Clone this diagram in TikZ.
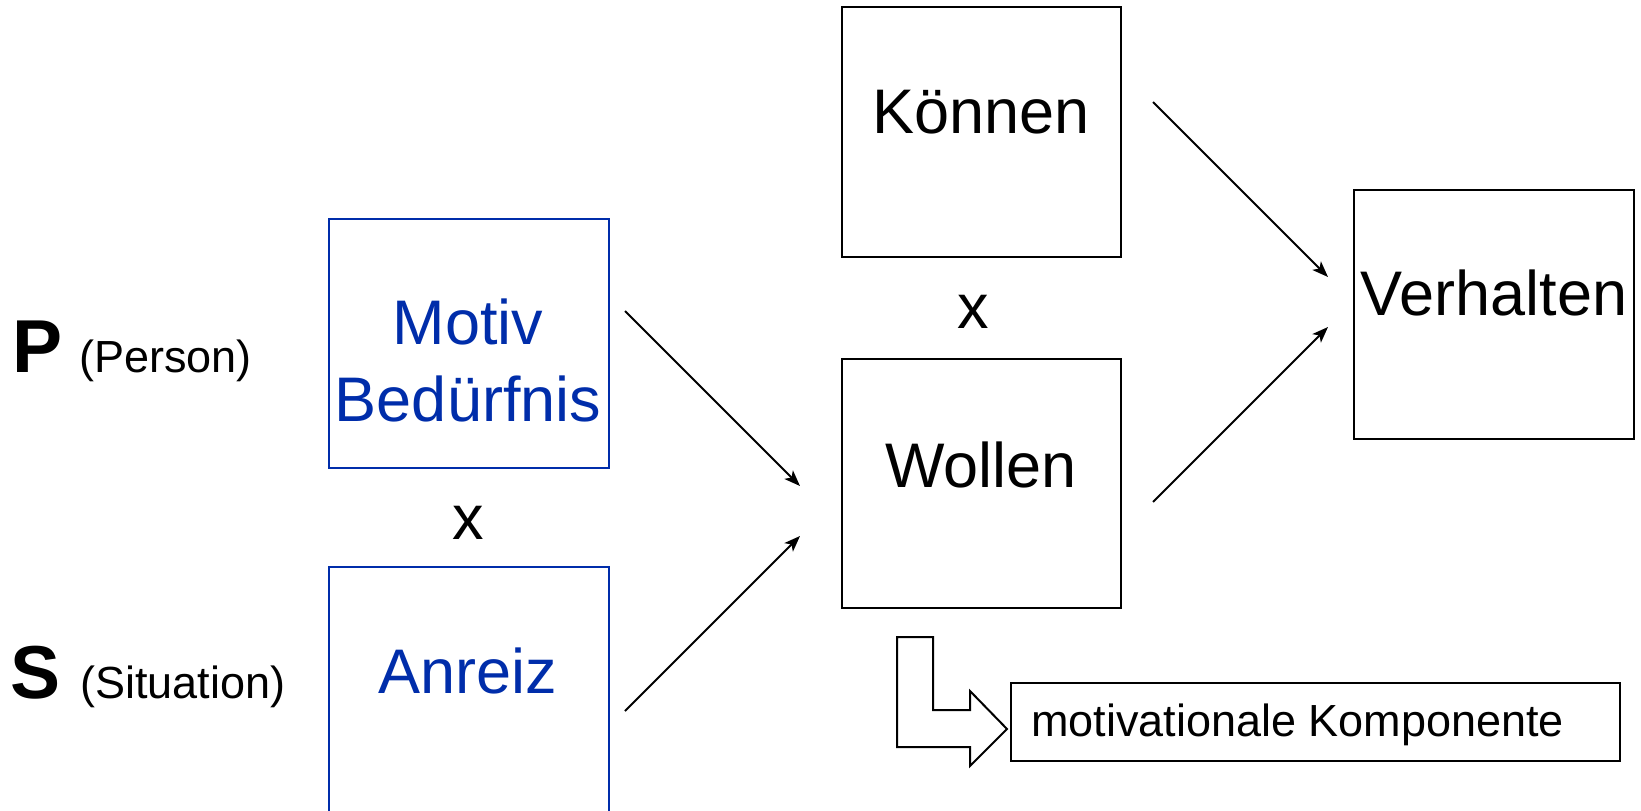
\documentclass[tikz,border=0pt]{standalone}
\usepackage{fontspec}
\setmainfont{Liberation Sans}
\usetikzlibrary{arrows.meta}
\definecolor{dblue}{RGB}{0,45,170}
\tikzset{
  box/.style={draw=black, line width=2pt, rectangle, inner sep=0pt, anchor=north west},
  bluebox/.style={box, draw=dblue},
  big/.style={inner sep=0pt, anchor=base, font=\fontsize{63}{77}\selectfont},
  bigblue/.style={big, text=dblue},
  small/.style={inner sep=0pt, anchor=base west, font=\fontsize{45}{54}\selectfont},
  letter/.style={inner sep=0pt, anchor=base west, font=\fontsize{75}{90}\selectfont\bfseries},
  conn/.style={line width=2pt, -{Stealth[length=16pt,width=12pt,inset=4pt]}},
}
\begin{document}
\begin{tikzpicture}[x=1pt,y=-1pt]
\useasboundingbox (0,0) rectangle (1641,811);
\clip (0,0) rectangle (1641,811);
% boxes
\node[bluebox, minimum width=280pt, minimum height=249pt] (motiv) at (328,218) {};
\node[bluebox, minimum width=280pt, minimum height=300pt] (anreiz) at (328,566) {};
\node[box, minimum width=279pt, minimum height=250pt] (koennen) at (841,6) {};
\node[box, minimum width=279pt, minimum height=249pt] (wollen) at (841,358) {};
\node[box, minimum width=280pt, minimum height=249pt] (verhalten) at (1353,189) {};
\node[box, minimum width=609pt, minimum height=78pt] (komp) at (1010,682) {};
% texts
\node[bigblue] (tmotiv) at (468,344) {Motiv};
\node[bigblue] (tbed) at (468,421) {Bedürfnis};
\node[big] (x1) at (468,539) {x};
\node[bigblue] (tanreiz) at (468,693) {Anreiz};
\node[big] (tkoennen) at (981,133) {Können};
\node[big] (x2) at (973,328) {x};
\node[big] (twollen) at (981,487) {Wollen};
\node[big] (tverhalten) at (1494,315) {Verhalten};
\node[letter] (P) at (12,372) {P};
\node[small] (person) at (79,372) {(Person)};
\node[letter] (S) at (10,698) {S};
\node[small] (situation) at (80,698) {(Situation)};
\node[small] (tkomp) at (1031,736) {motivationale Komponente};
% connector end points
\coordinate (a1) at (625,311);
\coordinate (a2) at (800,486);
\coordinate (b1) at (625,711);
\coordinate (b2) at (800,536);
\coordinate (c1) at (1153,102);
\coordinate (c2) at (1328,277);
\coordinate (d1) at (1153,502);
\coordinate (d2) at (1328,327);
\draw[conn] (a1) -- (a2);
\draw[conn] (b1) -- (b2);
\draw[conn] (c1) -- (c2);
\draw[conn] (d1) -- (d2);
% L-shaped block arrow
\draw[line width=2pt, fill=white, line join=miter]
  (897,637) -- (933,637) -- (933,710) -- (970,710) -- (970,691) -- (1007,729)
  -- (970,766) -- (970,747) -- (897,747) -- cycle;
\end{tikzpicture}
\end{document}
